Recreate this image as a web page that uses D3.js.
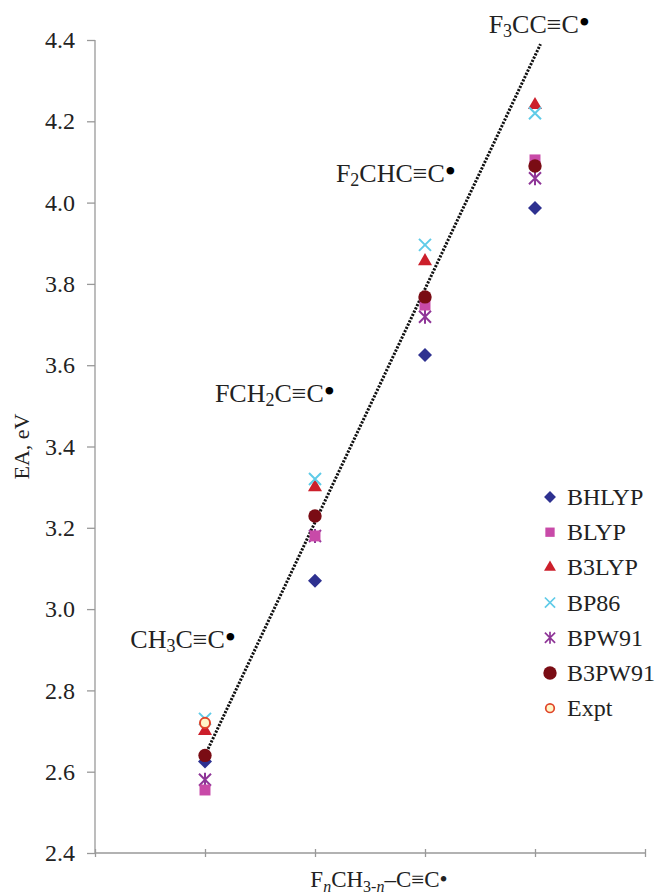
<!DOCTYPE html>
<html>
<head>
<meta charset="utf-8">
<script src="https://cdn.jsdelivr.net/npm/d3@7"></script>
<style>
  body { margin: 0; background: #fff; }
</style>
</head>
<body>
<script>
// values
var nValues = [1, 2, 3, 4];
var methods = ["BHLYP", "BLYP", "B3LYP", "BP86", "BPW91", "B3PW91", "Expt"];
var BHLYP  = [2.625, 3.07, 3.625, 3.987];
var BLYP   = [2.555, 3.18, 3.748, 4.105];
var B3LYP  = [2.70, 3.30, 3.856, 4.24];
var BP86   = [2.73, 3.32, 3.896, 4.22];
var BPW91  = [2.58, 3.18, 3.719, 4.06];
var B3PW91 = [2.64, 3.229, 3.768, 4.09];
var Expt   = [2.72, null, null, null];
var yTicks = [2.4, 2.6, 2.8, 3.0, 3.2, 3.4, 3.6, 3.8, 4.0, 4.2, 4.4];
var xTicks = [0, 1, 2, 3, 4, 5];
var trendN = [1, 4.05];
var trendEA = [2.64, 4.39];
var molLabels = ["CH_3C≡C", "FCH_2C≡C", "F_2CHC≡C", "F_3CC≡C"];
var molLabelN = [1.282, 2.182, 3.282, 4.5];
var molLabelEA = [2.904, 3.509, 4.051, 4.417];

var seriesValues = [BHLYP, BLYP, B3LYP, BP86, BPW91, B3PW91, Expt];

window.onload = function() {
    var width = 657, height = 895;
    var margin = {left: 95, right: 12, top: 40, bottom: 42};
    var serif = "'Liberation Serif', 'Times New Roman', serif";

    var svg = d3.select("body").append("svg")
        .attr("width", width).attr("height", height)
        .attr("font-family", serif);

    var x = d3.scaleLinear().domain([0, 5]).range([margin.left, width - margin.right]);
    var y = d3.scaleLinear().domain([2.4, 4.4]).range([height - margin.bottom, margin.top]);

    var colors = {
        BHLYP: "#2e3190", BLYP: "#c84aa8", B3LYP: "#cc1f2b", BP86: "#5fcbe8",
        BPW91: "#8e3597", B3PW91: "#7a0c14", Expt: "#e0452a"
    };

    // axes
    var xAxis = d3.axisBottom(x).tickValues(xTicks).tickSize(8).tickFormat("");
    var gx = svg.append("g")
        .attr("transform", "translate(0," + y(2.4) + ")")
        .call(xAxis);
    gx.selectAll(".tick line").attr("y1", -4).attr("y2", 4);

    var yAxis = d3.axisLeft(y).tickValues(yTicks).tickSize(8).tickPadding(12)
        .tickFormat(d3.format(".1f"));
    var gy = svg.append("g")
        .attr("transform", "translate(" + x(0) + ",0)")
        .call(yAxis);
    gx.attr("font-family", serif);
    gy.attr("font-family", serif).attr("font-size", 24);

    svg.selectAll(".domain, .tick line").attr("stroke", "#999").attr("stroke-width", 1.3);
    gx.select(".domain").attr("d", "M" + x(0) + ",0H" + x(5));
    gy.select(".domain").attr("d", "M0," + y(4.4) + "V" + y(2.4));
    gy.selectAll(".tick text").attr("fill", "#222");

    // axis titles
    svg.append("text")
        .attr("transform", "translate(29," + ((y(2.4) + y(4.4)) / 2) + ") rotate(-90)")
        .attr("text-anchor", "middle")
        .attr("font-size", 22).attr("fill", "#222")
        .text("EA, eV");

    var xt = svg.append("text")
        .attr("x", 379).attr("y", 887)
        .attr("text-anchor", "middle")
        .attr("font-size", 23).attr("fill", "#222");
    xt.append("tspan").text("F");
    xt.append("tspan").attr("dy", 5).attr("font-size", 16).attr("font-style", "italic").text("n");
    xt.append("tspan").attr("dy", -5).text("CH");
    xt.append("tspan").attr("dy", 5).attr("font-size", 16).text("3-");
    xt.append("tspan").attr("font-size", 16).attr("font-style", "italic").text("n");
    xt.append("tspan").attr("dy", -5).text("–C≡C•");

    // trend line
    var line = d3.line().x(d => x(d[0])).y(d => y(d[1]));
    svg.append("path")
        .datum(d3.zip(trendN, trendEA))
        .attr("d", line)
        .attr("fill", "none")
        .attr("stroke", "#111")
        .attr("stroke-width", 3)
        .attr("stroke-dasharray", "2.2,1.4");

    // molecule labels
    molLabels.forEach(function(lbl, i) {
        var t = svg.append("text")
            .attr("x", x(molLabelN[i])).attr("y", y(molLabelEA[i]))
            .attr("text-anchor", "end")
            .attr("font-size", 26).attr("fill", "#222");
        var parts = lbl.split("_");
        t.append("tspan").text(parts[0]);
        for (var k = 1; k < parts.length; k++) {
            t.append("tspan").attr("dy", 4).attr("font-size", 18).text(parts[k][0]);
            t.append("tspan").attr("dy", -4).text(parts[k].slice(1));
        }
        t.append("tspan").attr("font-size", 32).attr("fill", "#000").text("•");
    });

    // marker shapes
    function markerPath(name) {
        if (name === "BHLYP") return "M0,-7L7,0L0,7L-7,0Z";
        if (name === "BLYP") return d3.symbol(d3.symbolSquare, 120)();
        if (name === "B3LYP") return d3.symbol(d3.symbolTriangle, 85)();
        if (name === "BP86") return "M-6,-6L6,6M-6,6L6,-6";
        if (name === "BPW91") return "M-6,-6L6,6M-6,6L6,-6M0,-7V7";
        return d3.symbol(d3.symbolCircle, 140)();
    }
    function styleMarker(sel, name) {
        if (name === "BP86" || name === "BPW91") {
            sel.attr("fill", "none").attr("stroke", colors[name]).attr("stroke-width", 2);
        } else if (name === "Expt") {
            sel.attr("d", d3.symbol(d3.symbolCircle, 80)())
                .attr("fill", "#fff6c8").attr("stroke", colors[name]).attr("stroke-width", 2);
        } else {
            sel.attr("fill", colors[name]);
        }
    }

    // draw order: later series on top
    var drawOrder = ["BPW91", "BLYP", "BHLYP", "B3PW91", "B3LYP", "BP86", "Expt"];
    drawOrder.forEach(function(name) {
        var vals = seriesValues[methods.indexOf(name)];
        var pts = nValues.map((n, i) => ({n: n, v: vals[i]})).filter(d => d.v !== null);
        var g = svg.append("g");
        g.selectAll("path").data(pts).enter().append("path")
            .attr("transform", d => "translate(" + x(d.n) + "," + y(d.v) + ")")
            .attr("d", markerPath(name))
            .call(styleMarker, name);
    });

    // legend
    var legend = svg.append("g").attr("transform", "translate(550,497)");
    methods.forEach(function(name, i) {
        var row = legend.append("g").attr("transform", "translate(0," + (i * 35.2) + ")");
        var m = row.append("path").attr("d", markerPath(name)).call(styleMarker, name);
        if (name !== "B3PW91") m.attr("transform", "scale(0.85)");
        row.append("text").attr("x", 17).attr("y", 8)
            .attr("font-size", 24).attr("fill", "#222").text(name);
    });
};
</script>
</body>
</html>
